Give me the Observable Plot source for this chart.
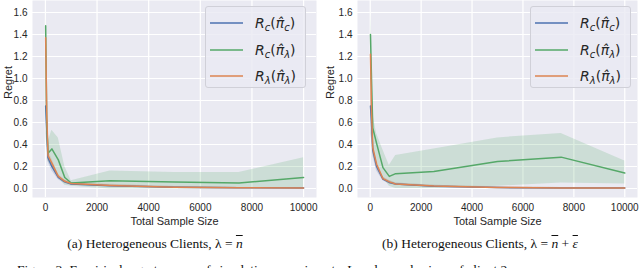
<!DOCTYPE html>
<html><head><meta charset="utf-8">
<script src="https://cdn.jsdelivr.net/npm/d3@7"></script>
<script src="https://cdn.jsdelivr.net/npm/@observablehq/plot@0.6"></script>
<style>
body{margin:0;background:#fff;}
#wrap{position:relative;width:640px;height:268px;overflow:hidden;background:#fff;}
.panel{position:absolute;top:0;}
.legend{position:absolute;top:6px;width:101px;height:82px;background:rgba(234,234,242,0.8);border:1px solid #d0d0d8;border-radius:3px;box-sizing:border-box;font-family:"DejaVu Sans",sans-serif;font-size:14px;color:#262626;}
.entry{position:absolute;left:4px;height:20px;line-height:20px;white-space:nowrap;}
.entry svg{display:inline-block;vertical-align:middle;margin-right:12px;position:relative;top:-1px;}
.entry sub{font-size:10px;vertical-align:-3px;line-height:0;}
.cap{position:absolute;top:236px;font-family:"Liberation Serif","Times New Roman",serif;font-size:13.5px;color:#111;white-space:nowrap;transform:translateX(-50%);}
.ov{text-decoration:overline;}
.fig{position:absolute;left:17px;top:262px;font-family:"Liberation Serif","Times New Roman",serif;font-size:13.5px;line-height:15px;color:#111;white-space:nowrap;}
</style></head>
<body><div id="wrap"></div>
<script>
const sizes = [10, 50, 100, 250, 500, 750, 1000, 2500, 5000, 7500, 10000];
const xTicks = [0, 2000, 4000, 6000, 8000, 10000];
const yTicks = [0, 0.2, 0.4, 0.6, 0.8, 1.0, 1.2, 1.4, 1.6];
const seriesNames = ["Rc(πc)", "Rc(πλ)", "Rλ(πλ)"];
const colors = ["#4c72b0", "#55a868", "#dd8452"];

// Panel (a)
const blueA    = [0.75, 0.55, 0.28, 0.20, 0.10, 0.06, 0.04, 0.025, 0.012, 0.006, 0.005];
const blueA_lo = [0.50, 0.40, 0.24, 0.16, 0.08, 0.045, 0.03, 0.015, 0.006, 0.002, 0.002];
const blueA_hi = [1.15, 0.70, 0.33, 0.24, 0.12, 0.075, 0.05, 0.035, 0.018, 0.010, 0.008];
const greenA    = [1.48, 0.62, 0.32, 0.36, 0.26, 0.10, 0.05, 0.07, 0.058, 0.05, 0.10];
const greenA_lo = [1.30, 0.45, 0.25, 0.20, 0.10, 0.03, 0.02, -0.005, -0.005, -0.005, 0.0];
const greenA_hi = [1.60, 0.80, 0.42, 0.53, 0.46, 0.20, 0.07, 0.16, 0.145, 0.145, 0.28];
const orangeA    = [1.37, 0.70, 0.30, 0.23, 0.11, 0.065, 0.045, 0.028, 0.012, 0.006, 0.005];
const orangeA_lo = [1.20, 0.55, 0.26, 0.19, 0.09, 0.05, 0.035, 0.018, 0.006, 0.002, 0.002];
const orangeA_hi = [1.50, 0.85, 0.35, 0.27, 0.13, 0.08, 0.055, 0.038, 0.018, 0.010, 0.008];

// Panel (b)
const blueB    = [0.75, 0.60, 0.35, 0.20, 0.085, 0.055, 0.04, 0.02, 0.008, 0.005, 0.004];
const blueB_lo = [0.50, 0.45, 0.30, 0.16, 0.07, 0.04, 0.03, 0.012, 0.003, 0.001, 0.001];
const blueB_hi = [1.10, 0.75, 0.40, 0.24, 0.10, 0.07, 0.05, 0.03, 0.014, 0.009, 0.008];
const greenB    = [1.40, 1.00, 0.55, 0.41, 0.19, 0.11, 0.135, 0.155, 0.245, 0.285, 0.14];
const greenB_lo = [1.20, 0.80, 0.40, 0.25, 0.10, 0.02, 0.0, 0.0, 0.02, 0.05, 0.04];
const greenB_hi = [1.60, 1.20, 0.68, 0.50, 0.35, 0.21, 0.30, 0.36, 0.46, 0.50, 0.25];
const orangeB    = [1.22, 0.70, 0.37, 0.22, 0.09, 0.06, 0.04, 0.022, 0.01, 0.005, 0.004];
const orangeB_lo = [1.05, 0.55, 0.32, 0.18, 0.075, 0.045, 0.03, 0.014, 0.004, 0.001, 0.001];
const orangeB_hi = [1.40, 0.85, 0.42, 0.26, 0.105, 0.075, 0.05, 0.03, 0.016, 0.009, 0.008];

function rows(name, m, lo, hi) {
  return sizes.map((x, i) => ({series: name, x, y: m[i], lo: lo[i], hi: hi[i]}));
}

function panel(data, marginLeft, marginRight, regretDx) {
  return Plot.plot({
    width: 320, height: 230,
    marginLeft, marginRight, marginTop: 0, marginBottom: 33,
    style: {fontFamily: "'Liberation Sans', Arial, sans-serif", fontSize: "10px", color: "#262626", background: "transparent", overflow: "visible"},
    x: {domain: [-500, 10500]},
    y: {domain: [-0.082, 1.709]},
    color: {domain: seriesNames, range: colors},
    marks: [
      Plot.frame({fill: "#eaeaf2", stroke: null}),
      Plot.gridX(xTicks, {stroke: "white", strokeOpacity: 1, strokeWidth: 1.2}),
      Plot.gridY(yTicks, {stroke: "white", strokeOpacity: 1, strokeWidth: 1.2}),
      Plot.areaY(data, {x: "x", y1: "lo", y2: "hi", z: "series", fill: "series", fillOpacity: 0.2, curve: "linear"}),
      Plot.line(data, {x: "x", y: "y", z: "series", stroke: "series", strokeWidth: 1.5}),
      Plot.axisX(xTicks, {tickSize: 0, tickPadding: 6, tickFormat: d3.format("d"), label: null, fill: "#262626"}),
      Plot.axisY(yTicks, {tickSize: 0, tickPadding: 5, tickFormat: d3.format(".1f"), label: null, fill: "#262626"}),
      Plot.text(["Total Sample Size"], {frameAnchor: "bottom", dy: 27, fontSize: 11, fill: "#262626"}),
      Plot.text(["Regret"], {frameAnchor: "left", dx: regretDx, rotate: -90, fontSize: 11, fill: "#262626"})
    ]
  });
}

const dataA = [
  ...rows(seriesNames[0], blueA, blueA_lo, blueA_hi),
  ...rows(seriesNames[1], greenA, greenA_lo, greenA_hi),
  ...rows(seriesNames[2], orangeA, orangeA_lo, orangeA_hi)
];
const dataB = [
  ...rows(seriesNames[0], blueB, blueB_lo, blueB_hi),
  ...rows(seriesNames[1], greenB, greenB_lo, greenB_hi),
  ...rows(seriesNames[2], orangeB, orangeB_lo, orangeB_hi)
];

const wrap = document.getElementById("wrap");
const pA = panel(dataA, 32, 4, -24);
pA.classList.add("panel"); pA.style.left = "0px";
wrap.appendChild(pA);
const pB = panel(dataB, 37, 3, -27);
pB.classList.add("panel"); pB.style.left = "320px";
wrap.appendChild(pB);

const legendHTML = [
  `<i>R</i><sub><i>c</i></sub>(<i>π̂</i><sub><i>c</i></sub>)`,
  `<i>R</i><sub><i>c</i></sub>(<i>π̂</i><sub><i>λ</i></sub>)`,
  `<i>R</i><sub><i>λ</i></sub>(<i>π̂</i><sub><i>λ</i></sub>)`
];
for (const left of [205, 530]) {
  const lg = document.createElement("div");
  lg.className = "legend";
  lg.style.left = left + "px";
  legendHTML.forEach((h, i) => {
    const e = document.createElement("div");
    e.className = "entry";
    e.style.top = (6 + i * 26.5) + "px";
    e.innerHTML = `<svg width="33" height="4"><line x1="0" x2="33" y1="2" y2="2" stroke="${colors[i]}" stroke-width="1.5"/></svg>${h}`;
    lg.appendChild(e);
  });
  wrap.appendChild(lg);
}

const caps = [
  {x: 155, html: "(a) Heterogeneous Clients, λ = <i class=\"ov\">n</i>"},
  {x: 480, html: "(b) Heterogeneous Clients, λ = <i class=\"ov\">n</i> + <i class=\"ov\">ε</i>"}
];
for (const c of caps) {
  const d = document.createElement("div");
  d.className = "cap"; d.style.left = c.x + "px"; d.innerHTML = c.html;
  wrap.appendChild(d);
}
const fig = document.createElement("div");
fig.className = "fig";
fig.textContent = "Figure 3: Empirical regret curves of simulation experiments. Local sample sizes of client 2 are";
wrap.appendChild(fig);
</script></body></html>
